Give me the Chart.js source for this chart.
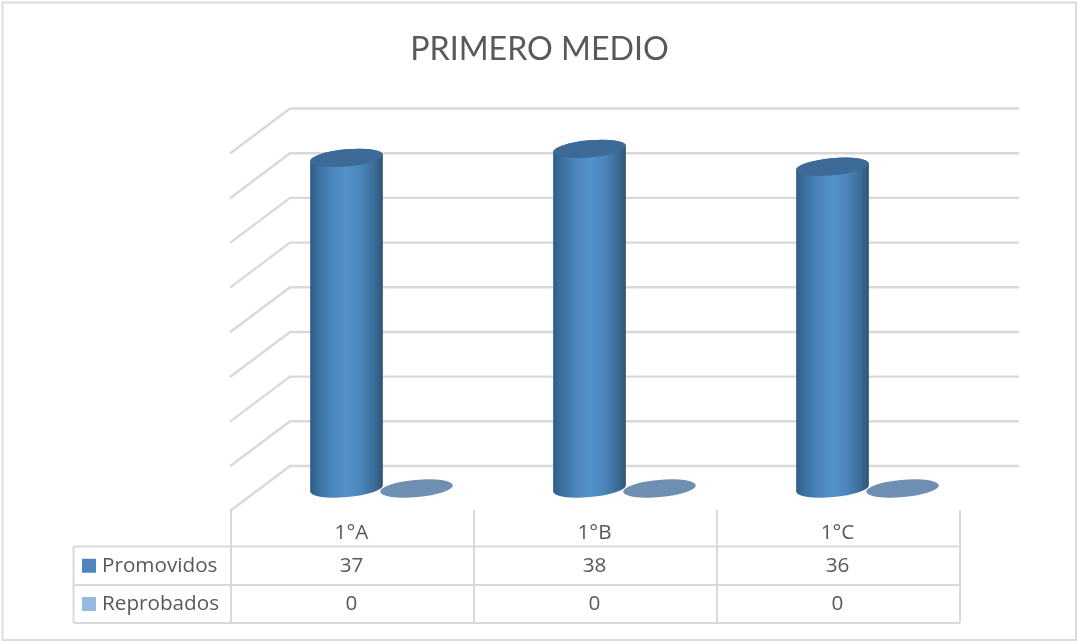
<!DOCTYPE html>
<html><head><meta charset="utf-8">
<style>html,body{margin:0;padding:0;background:#fff}canvas{display:block}</style>
<script src="https://cdn.jsdelivr.net/npm/chart.js@4"></script>
</head><body><canvas id="c" width="1077" height="641"></canvas>
<script>
const categories = ['1°A','1°B','1°C'];
const promovidos = [37,38,36];
const reprobados = [0,0,0];
const seriesNames = ['Promovidos','Reprobados'];
const seriesColors = ['#4f86bd','#97b8e0'];
const capColors = ['#3d6a96','#6e8eb2'];

const GRID='#d9d9d9', TXT='#595959', LABEL_FONT='20.7px "Open Sans"';
const DEPTH_X=30, DEPTH_Y=22.5, TILT=-0.092, MINOR=8.6;

const cylinder3D = {
  id:'cylinder3D',
  beforeDraw(chart){
    const c=chart.ctx; c.save();
    c.fillStyle='#fff'; c.fillRect(0,0,chart.width,chart.height);
    c.strokeStyle=GRID; c.lineWidth=1.8;
    c.strokeRect(2.5,2.5,1073.5,637.5);
    c.restore();
  },
  beforeDatasetsDraw(chart){
    const c=chart.ctx, y=chart.scales.y, a=chart.chartArea;
    c.save(); c.strokeStyle=GRID; c.lineWidth=2.4; c.lineJoin='miter';
    y.ticks.forEach(t=>{
      const py=y.getPixelForValue(t.value);
      c.beginPath();
      c.moveTo(a.left-DEPTH_X,py+DEPTH_Y);
      c.lineTo(a.left+DEPTH_X,py-DEPTH_Y);
      c.lineTo(a.right+DEPTH_X,py-DEPTH_Y);
      c.stroke();
    });
    c.restore();
  },
  beforeDatasetDraw(chart,args){
    const c=chart.ctx, meta=args.meta, i=args.index;
    meta.data.forEach(bar=>{
      const A=bar.width/2, top=bar.y, base=bar.base, cx=bar.x;
      const dx=A*Math.cos(TILT), dy=A*Math.sin(TILT);
      c.save();
      if(base-top>1){
        const g=c.createLinearGradient(cx-dx,0,cx+dx,0);
        g.addColorStop(0,'#2f5c88'); g.addColorStop(.1,'#3a6e9f');
        g.addColorStop(.3,'#4a85bc'); g.addColorStop(.5,'#5492cb');
        g.addColorStop(.7,'#4a85bc'); g.addColorStop(.88,'#3c6d99');
        g.addColorStop(1,'#2f5475');
        c.beginPath();
        c.moveTo(cx-dx,top-dy);
        c.lineTo(cx-dx,base-dy);
        c.ellipse(cx,base,A,MINOR,TILT,Math.PI,0,true);
        c.lineTo(cx+dx,top+dy);
        c.ellipse(cx,top,A,MINOR,TILT,0,Math.PI,true);
        c.closePath();
        c.fillStyle=g; c.fill();
      }
      c.beginPath();
      c.ellipse(cx,top,A,MINOR,TILT,0,Math.PI*2);
      c.fillStyle=capColors[i]; c.fill();
      c.restore();
    });
    return false;
  },
  afterDraw(chart){
    const c=chart.ctx, x=chart.scales.x, a=chart.chartArea;
    const step=x.getPixelForValue(1)-x.getPixelForValue(0);
    const left=a.left-DEPTH_X+1, right=left+step*categories.length;
    const tableLeft=73.5, rowY=[546.5,585,623], topY=a.bottom+DEPTH_Y-1;
    c.save();
    c.strokeStyle=GRID; c.lineWidth=2;
    rowY.forEach(ry=>{c.beginPath();c.moveTo(tableLeft,ry);c.lineTo(right,ry);c.stroke();});
    c.beginPath();c.moveTo(tableLeft,rowY[0]);c.lineTo(tableLeft,rowY[2]);c.stroke();
    for(let k=0;k<=categories.length;k++){
      const px=left+step*k;
      c.beginPath();c.moveTo(px,topY);c.lineTo(px,rowY[2]);c.stroke();
    }
    c.font=LABEL_FONT; c.fillStyle=TXT; c.textBaseline='middle'; c.textAlign='center';
    categories.forEach((cat,k)=>{
      const px=x.getPixelForValue(k)-DEPTH_X;
      c.fillText(cat,px,533);
      chart.data.datasets.forEach((ds,d)=>{ c.fillText(String(ds.data[k]),px,(rowY[d]+rowY[d+1])/2+0.5); });
    });
    c.textAlign='left';
    chart.data.datasets.forEach((ds,d)=>{
      const my=(rowY[d]+rowY[d+1])/2;
      c.fillStyle=ds.backgroundColor; c.fillRect(82,my-7,14,14);
      c.fillStyle=TXT; c.fillText(ds.label,102,my);
    });
    c.restore();
  }
};

new Chart(document.getElementById('c'),{
  type:'bar',
  data:{labels:categories,datasets:[
    {label:seriesNames[0],data:promovidos,backgroundColor:seriesColors[0]},
    {label:seriesNames[1],data:reprobados,backgroundColor:seriesColors[1]}
  ]},
  options:{
    responsive:false,animation:false,events:[],
    layout:{padding:{left:90,right:88,top:0,bottom:0}},
    datasets:{bar:{categoryPercentage:0.576,barPercentage:1.043}},
    plugins:{
      legend:{display:false},tooltip:{enabled:false},
      title:{display:true,text:'PRIMERO MEDIO',color:TXT,
        font:{family:'Lato',size:32.2,weight:'normal',lineHeight:1.2},
        padding:{top:30,bottom:62.4}}
    },
    scales:{
      x:{display:true,grid:{display:false},border:{display:false},ticks:{display:false},
         afterFit(s){s.height=152.5;}},
      y:{display:true,min:0,max:40,ticks:{display:false,stepSize:5},grid:{display:false},border:{display:false},
         afterFit(s){s.width=170;}}
    }
  },
  plugins:[cylinder3D]
});
</script></body></html>
